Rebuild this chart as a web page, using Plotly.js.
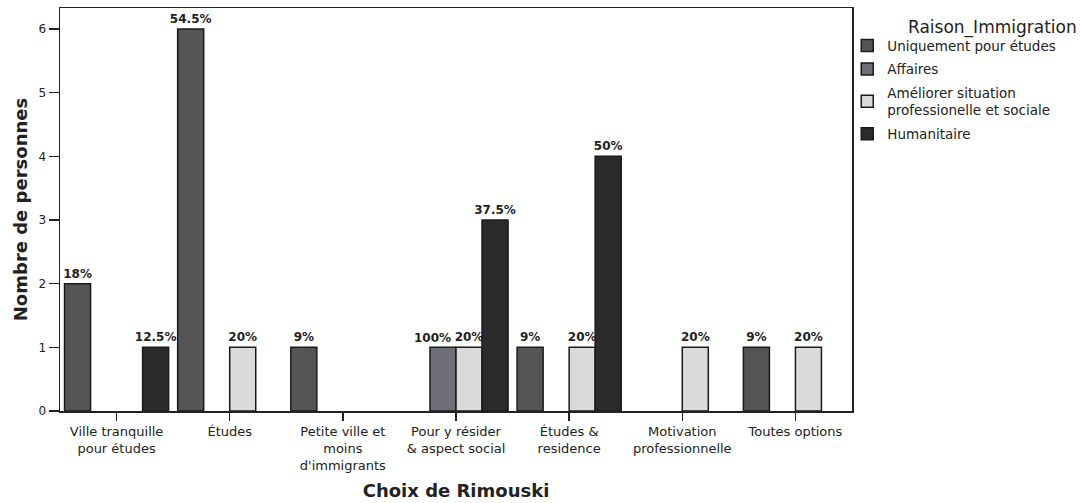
<!DOCTYPE html>
<html><head><meta charset="utf-8">
<script src="https://cdn.plot.ly/plotly-3.0.1.min.js"></script>
<style>html,body{margin:0;padding:0;background:#fff}</style>
</head><body><div id="chart" style="width:1080px;height:503px"></div>
<script>
const categories = ["Ville tranquille<br>pour études","Études","Petite ville et<br>moins<br>d'immigrants","Pour y résider<br>& aspect social","Études &<br>residence","Motivation<br>professionnelle","Toutes options"];
const seriesNames = ["Uniquement pour études","Affaires","Améliorer situation<br>professionelle et sociale","Humanitaire"];
const legendTitle = "Raison_Immigration";
const uniquement = [2, 6, 1, null, 1, null, 1];
const affaires = [null, null, null, 1, null, null, null];
const ameliorer = [null, 1, null, 1, 1, 1, 1];
const humanitaire = [1, null, null, 3, 4, null, null];
const uniquementPct = ["18%","54.5%","9%","","9%","","9%"];
const affairesPct = ["","","","100%","","",""];
const ameliorerPct = ["","20%","","20%","20%","20%","20%"];
const humanitairePct = ["12.5%","","","37.5%","50%","",""];
const colors = ["#555555","#6f6f77","#dadada","#2b2b2b"];

const FONT = 'DejaVu Sans, Verdana, sans-serif';
const LABEL_FONT = {family:FONT, size:12, color:'#222', weight:'bold'};
const values = [uniquement, affaires, ameliorer, humanitaire];
const pcts = [uniquementPct, affairesPct, ameliorerPct, humanitairePct];
// Affaires labels are drawn as annotations (nudged left, as in the original)
const traces = values.map((v,i)=>({
  type:'bar', name: seriesNames[i], x: categories, y: v, legendgroup:'g'+i,
  text: i === 1 ? null : pcts[i], textposition:'outside', cliponaxis:false, constraintext:'none',
  textfont: LABEL_FONT,
  marker:{color: colors[i], line:{color:'#1a1a1a', width:1.5}},
  hoverinfo:'none'
}));

const annotations = [{
  text: legendTitle, xref:'paper', yref:'paper', x:1.177, y:0.952,
  xanchor:'center', yanchor:'middle', showarrow:false,
  font:{family:FONT, size:17, color:'#222'}
}];
affaires.forEach((v, idx) => {
  if (v !== null) annotations.push({
    text: affairesPct[idx], xref:'x', yref:'y', x: idx, y: v,
    xanchor:'center', yanchor:'bottom', showarrow:false, xshift:-24, yshift:0,
    font: LABEL_FONT
  });
});

const layout = {
  width:1080, height:503,
  margin:{l:60, r:228, t:8, b:92},
  paper_bgcolor:'#fff', plot_bgcolor:'#fff',
  barmode:'group', bargap:0.08, bargroupgap:0,
  font:{family:FONT, color:'#222', size:12},
  showlegend:true,
  xaxis:{
    type:'category', showline:true, mirror:true, linecolor:'#222', linewidth:1.5,
    ticks:'outside', ticklen:8, tickcolor:'#222', tickwidth:1.5,
    tickfont:{size:13, color:'#222'},
    title:{text:'<b>Choix de Rimouski</b>', font:{size:18, color:'#222'}, standoff:12},
    showgrid:false, fixedrange:true
  },
  yaxis:{
    range:[0,6.33], showline:true, mirror:true, linecolor:'#222', linewidth:1.5,
    ticks:'outside', ticklen:10, tickcolor:'#222', tickwidth:1.5,
    tickvals:[0,1,2,3,4,5,6], tickfont:{size:12, color:'#222'},
    title:{text:'<b>Nombre de personnes</b>', font:{size:18, color:'#222'}, standoff:6},
    showgrid:false, zeroline:false, fixedrange:true
  },
  legend:{
    x:0.994, xanchor:'left', y:0.945, yanchor:'top',
    font:{size:13.5, color:'#222'}, tracegroupgap:3, itemwidth:30,
    bgcolor:'rgba(0,0,0,0)'
  },
  annotations: annotations
};
Plotly.newPlot('chart', traces, layout, {staticPlot:true});
</script></body></html>
